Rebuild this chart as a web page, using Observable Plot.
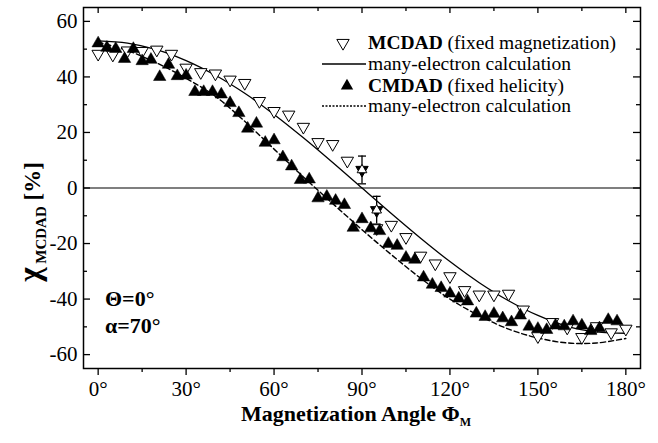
<!DOCTYPE html>
<html><head><meta charset="utf-8">
<script src="https://cdn.jsdelivr.net/npm/d3@7"></script>
<script src="https://cdn.jsdelivr.net/npm/@observablehq/plot@0.6"></script>
<style>body{margin:0;background:#fff}</style>
</head><body><div id="chart"></div>
<script>
// ---- data ----
const mcdadAngle = [0,5,10,15,20,25,30,35,40,45,50,55,60,65,70,75,80,85,95,100,105,110,115,120,125,130,135,140,145,150,155,160,165,170,175,180];
const mcdadValue = [48.3,48,49.5,49.3,49.8,48.3,43.3,41.7,41.2,39,37.8,31.3,27.7,26.4,22,16.5,15.8,9.8,-14.5,-13.3,-17.7,-24.4,-27.2,-31.8,-36.8,-38.4,-38.4,-38.1,-43.8,-53.4,-48.3,-50.3,-53.7,-49.8,-52,-50.7];
const cmdadAngle = [0,3,6,9,12,15,18,21,24,27,30,33,36,39,42,45,48,51,54,57,60,63,66,69,72,75,78,81,84,87,90,93,96,99,102,105,108,111,114,117,120,123,126,129,132,135,138,141,144,147,150,153,156,159,162,165,168,171,174,177];
const cmdadValue = [52.1,50.5,50.1,46.5,50.1,45.7,46.2,40,44.4,40.3,40.5,34.6,34.6,34.6,33.7,30.6,27,21.4,23.2,16.3,17.2,11.1,7.8,2.9,3.1,-3.7,-3.1,-4.6,-6.1,-14.3,-11.2,-14.5,-15.5,-20.1,-20.8,-25.1,-25.8,-32.2,-34.8,-36,-38,-39.8,-40.8,-45.2,-46.4,-45.3,-46.9,-48.3,-45.9,-49.9,-50.7,-51.1,-49.5,-49.8,-48,-49.5,-51.5,-50.5,-47.5,-48];
const errAngle = [90, 95];
const errValue = [6.5, -8];
const errSize = [5, 5];
const calcAngle = [0,10,20,30,40,50,60,70,80,90,100,110,120,130,140,150,160,170,180];
const calcMCDAD = [53,52.2,49.8,45.9,40.6,34.1,26.5,18.1,9.2,0,-9.2,-18.1,-26.5,-34.1,-40.6,-45.9,-49.8,-51.8,-52.3];
const calcCMDAD = [52.5,49.5,45,39.5,33,24,14,4,-5.6,-15,-24,-32.5,-40,-46,-50.8,-54,-55.8,-55.8,-54.2];
const xMajor = [0,30,60,90,120,150,180];
const xMinor = [15,45,75,105,135,165];
const yMajor = [-60,-40,-20,0,20,40,60];
const yMinor = [-50,-30,-10,10,30,50];
const legendLabels = [["MCDAD"," (fixed magnetization)"],["","many-electron calculation"],["CMDAD"," (fixed helicity)"],["","many-electron calculation"]];

// ---- tables ----
const mcdad = mcdadAngle.map((a,i)=>({a, v: mcdadValue[i]}));
const cmdad = cmdadAngle.map((a,i)=>({a, v: cmdadValue[i]}));
const errs = errAngle.map((a,i)=>({a, v: errValue[i], e: errSize[i]}));
const curveM = calcAngle.map((a,i)=>({a, v: calcMCDAD[i]}));
const curveC = calcAngle.map((a,i)=>({a, v: calcCMDAD[i]}));

const W = 658, H = 443, mL = 83, mR = 18, mT = 7, mB = 75;
const iW = W - mL - mR, iH = H - mT - mB;
const serif = "'Liberation Serif', 'Times New Roman', serif";
const cap = {draw(ctx, size){ const w = Math.sqrt(size/Math.PI); ctx.moveTo(-w,0); ctx.lineTo(w,0); }};

const chart = Plot.plot({
  width: W, height: H,
  marginLeft: mL, marginRight: mR, marginTop: mT, marginBottom: mB,
  style: {fontFamily: serif, fontSize: "21px", color: "black", background: "white"},
  x: {domain: [-5, 185]},
  y: {domain: [-65, 65]},
  marks: [
    Plot.ruleY([0], {stroke: "black", strokeWidth: 1.2}),
    Plot.line(curveM, {x: "a", y: "v", curve: "catmull-rom", stroke: "black", strokeWidth: 1.3}),
    Plot.line(curveC, {x: "a", y: "v", curve: "catmull-rom", stroke: "black", strokeWidth: 1.4, strokeDasharray: "5,3"}),
    Plot.ruleX(errs, {x: "a", y1: d => d.v - d.e, y2: d => d.v + d.e, stroke: "black", strokeWidth: 1.3}),
    Plot.dot(errs, {x: "a", y: d => d.v - d.e, symbol: cap, r: 4, stroke: "black", strokeWidth: 1.3}),
    Plot.dot(errs, {x: "a", y: d => d.v + d.e, symbol: cap, r: 4, stroke: "black", strokeWidth: 1.3}),
    Plot.dot(mcdad, {x: "a", y: "v", symbol: "triangle", rotate: 180, r: 4.6, fill: "white", stroke: "black", strokeWidth: 1}),
    Plot.dot(cmdad, {x: "a", y: "v", symbol: "triangle", r: 4.6, fill: "black", stroke: "black", strokeWidth: 0.5}),
    Plot.dot(errs, {x: "a", y: "v", symbol: "triangle", rotate: 180, r: 4.6, fill: "black", stroke: "black", strokeWidth: 1}),
    Plot.dot(errs, {x: "a", y: "v", symbol: "triangle", r: 3.6, fill: "white", stroke: "black", strokeWidth: 1}),
    Plot.frame({stroke: "black", strokeWidth: 1.5}),
    Plot.axisX({ticks: xMajor, tickSize: 7, tickPadding: 6, tickFormat: d => d + "°", fontSize: 21, label: null, strokeWidth: 1.3}),
    Plot.axisX({ticks: xMinor, tickSize: 4, tickFormat: () => "", label: null, strokeWidth: 1.3}),
    Plot.tickX(xMajor, {x: d => d, insetBottom: iH - 6, strokeWidth: 1.3}),
    Plot.tickX(xMinor, {x: d => d, insetBottom: iH - 4, strokeWidth: 1.3}),
    Plot.axisY({ticks: yMajor, tickSize: 0, tickPadding: 6, tickFormat: d => String(d), fontSize: 21, label: null}),
    Plot.tickY(yMajor, {y: d => d, insetRight: iW - 7, strokeWidth: 1.3}),
    Plot.tickY(yMinor, {y: d => d, insetRight: iW - 4, strokeWidth: 1.3}),
    Plot.tickY(yMajor, {y: d => d, insetLeft: iW - 7, strokeWidth: 1.3}),
    Plot.tickY(yMinor, {y: d => d, insetLeft: iW - 4, strokeWidth: 1.3})
  ]
});
document.getElementById("chart").appendChild(chart);

// ---- annotations (text) ----
const svg = d3.select(chart);
function txt(sel) { return sel.style("font-family", serif).attr("text-anchor", "start").attr("fill", "black"); }
function span(t, s) { return t.append("tspan").style("font-family", serif).text(s); }

const yl = svg.append("text").attr("transform", "translate(40,222) rotate(-90)")
  .style("font-family", serif).attr("text-anchor", "middle").style("font-weight", "bold").attr("fill", "black");
span(yl, "χ").style("font-size", "31px");
span(yl, " MCDAD").style("font-size", "15px").attr("dy", 6);
span(yl, " [%]").style("font-size", "23px").attr("dy", -6);

const xl = svg.append("text").attr("x", 356).attr("y", 421).attr("text-anchor", "middle")
  .style("font-family", serif).style("font-weight", "bold").attr("fill", "black");
span(xl, "Magnetization Angle Φ").style("font-size", "22px");
span(xl, "M").style("font-size", "12px").attr("dy", 5);

txt(svg.append("text")).attr("x", 105).attr("y", 306).style("font-weight", "bold").style("font-size", "22px").text("Θ=0°");
txt(svg.append("text")).attr("x", 105).attr("y", 333).style("font-weight", "bold").style("font-size", "22px").text("α=70°");

// legend
const lg = svg.append("g");
const rowY = [43, 64, 86, 106];
const tri = d3.symbol(d3.symbolTriangle, 66);
lg.append("path").attr("d", tri()).attr("transform", `translate(343,${rowY[0]}) rotate(180)`).attr("fill", "white").attr("stroke", "black");
lg.append("line").attr("x1", 322).attr("x2", 366).attr("y1", rowY[1]).attr("y2", rowY[1]).attr("stroke", "black").attr("stroke-width", 1.3);
lg.append("path").attr("d", tri()).attr("transform", `translate(347,${rowY[2]})`).attr("fill", "black");
lg.append("line").attr("x1", 322).attr("x2", 366).attr("y1", rowY[3]).attr("y2", rowY[3]).attr("stroke", "black").attr("stroke-width", 1.3).attr("stroke-dasharray", "2,1.5");
legendLabels.forEach((l, i) => {
  const t = txt(lg.append("text")).attr("x", 368).attr("y", rowY[i] + 6).style("font-size", "19.5px");
  if (l[0]) span(t, l[0]).style("font-weight", "bold");
  span(t, l[1]);
});
</script>
</body></html>
